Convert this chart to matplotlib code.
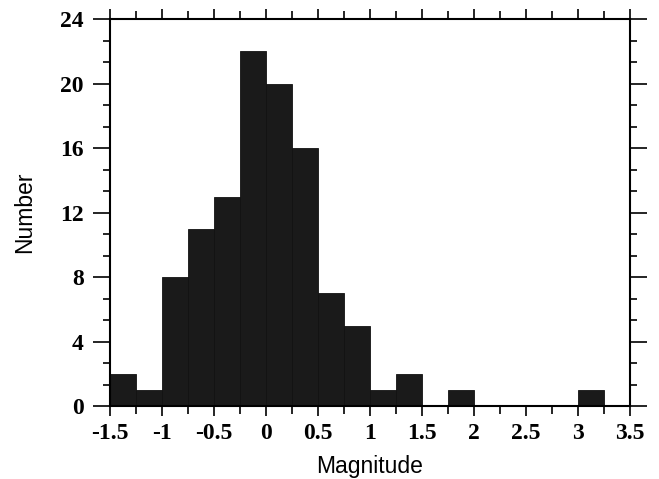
import matplotlib
matplotlib.use("Agg")
import matplotlib.pyplot as plt
import numpy as np
from matplotlib.ticker import MultipleLocator

# bin left edges (width 0.25) and counts
bin_edges = [-1.5, -1.25, -1.0, -0.75, -0.5, -0.25, 0.0, 0.25, 0.5, 0.75,
             1.0, 1.25, 1.5, 1.75, 2.0, 2.25, 2.5, 2.75, 3.0]
counts = [2, 1, 8, 11, 13, 22, 20, 16, 7, 5,
          1, 2, 0, 1, 0, 0, 0, 0, 1]
bin_width = 0.25

x_ticks = [-1.5, -1, -0.5, 0, 0.5, 1, 1.5, 2, 2.5, 3, 3.5]
x_ticklabels = ["-1.5", "-1", "-0.5", "0", "0.5", "1", "1.5", "2", "2.5", "3", "3.5"]
y_ticks = [0, 4, 8, 12, 16, 20, 24]

fig = plt.figure(figsize=(6.59, 4.79), dpi=100)
ax = fig.add_axes([0.167, 0.152, 0.789, 0.808])

ax.bar(bin_edges, counts, width=bin_width, align="edge",
       color="#1a1a1a", edgecolor="#111111", linewidth=0.6)

ax.set_xlim(-1.5, 3.5)
ax.set_ylim(0, 24)
ax.set_xticks(x_ticks)
ax.set_xticklabels(x_ticklabels)
ax.set_yticks(y_ticks)
ax.xaxis.set_minor_locator(MultipleLocator(0.25))
ax.yaxis.set_minor_locator(MultipleLocator(4 / 3))

ax.tick_params(which="both", direction="out", top=True, right=True,
               labeltop=False, labelright=False, width=1.2)
ax.tick_params(which="major", length=7, pad=5)
ax.tick_params(which="minor", length=6)
ax.tick_params(axis="y", which="major", length=12, pad=7)
ax.tick_params(axis="y", which="minor", length=5)

for lab in ax.get_xticklabels() + ax.get_yticklabels():
    lab.set_family("Liberation Serif")
    lab.set_fontweight("bold")
    lab.set_fontsize(17)

for sp in ax.spines.values():
    sp.set_linewidth(1.5)

ax.set_xlabel("Magnitude", family="Liberation Sans", fontsize=16.5, labelpad=8)
ax.set_ylabel("Number", family="Liberation Sans", fontsize=16.5, labelpad=17)

fig.savefig("out.png", dpi=100)
